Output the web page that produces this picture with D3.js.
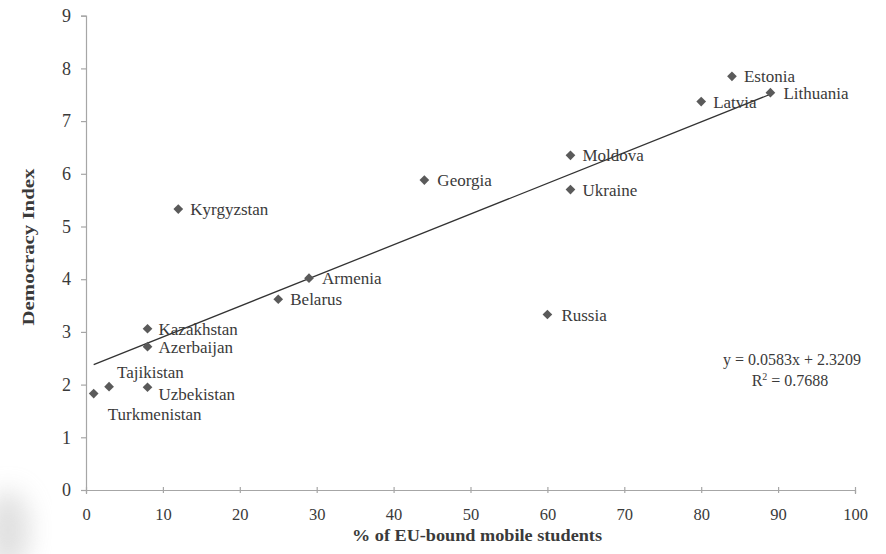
<!DOCTYPE html>
<html>
<head>
<meta charset="utf-8">
<script src="https://cdn.jsdelivr.net/npm/d3@7"></script>
<style>
  html, body { margin: 0; padding: 0; background: #fff; }
  svg { display: block; }
  text { font-family: "Liberation Serif", "DejaVu Serif", serif; fill: #3a3a3a; }
</style>
</head>
<body>
<svg id="chart" width="886" height="554"></svg>
<script>
// Countries, share of EU-bound mobile students (%) and Democracy Index
const countries = ["Turkmenistan", "Tajikistan", "Uzbekistan", "Azerbaijan", "Kazakhstan",
  "Kyrgyzstan", "Belarus", "Armenia", "Georgia", "Russia", "Moldova", "Ukraine",
  "Latvia", "Estonia", "Lithuania"];
const euShare = [1, 3, 8, 8, 8, 12, 25, 29, 44, 60, 63, 63, 80, 84, 89];
const democracy = [1.83, 1.96, 1.95, 2.72, 3.06, 5.33, 3.62, 4.02, 5.88, 3.33, 6.35, 5.70, 7.37, 7.85, 7.54];

// Linear trend line coefficients
const slope = 0.0583;
const intercept = 2.3209;
const rSquared = 0.7688;

const xTicks = [0, 10, 20, 30, 40, 50, 60, 70, 80, 90, 100];
const yTicks = [0, 1, 2, 3, 4, 5, 6, 7, 8, 9];

// Label placement relative to each marker [dx, dy]
const labelOffset = {
  Turkmenistan: [14, 26], Tajikistan: [8, -9], Uzbekistan: [11, 13],
  Azerbaijan: [11, 6], Kazakhstan: [11, 6], Kyrgyzstan: [12, 6],
  Belarus: [12, 6], Armenia: [13, 6], Georgia: [13, 6], Russia: [14, 6],
  Moldova: [12, 6], Ukraine: [12, 6], Latvia: [12, 6], Estonia: [12, 6],
  Lithuania: [13, 6]
};

const svg = d3.select("#chart");

// Faint grey smudge in the lower-left corner
const defs = svg.append("defs");
defs.append("filter").attr("id", "soft").attr("x", "-50%").attr("y", "-50%")
  .attr("width", "200%").attr("height", "200%")
  .append("feGaussianBlur").attr("stdDeviation", 12);
svg.append("ellipse").attr("cx", 8).attr("cy", 530).attr("rx", 22).attr("ry", 40)
  .attr("fill", "#c8c8c8").attr("opacity", 0.55).attr("filter", "url(#soft)");

const x = d3.scaleLinear().domain([0, 100]).range([86, 855]);
const y = d3.scaleLinear().domain([0, 9]).range([490, 15.7]);
const axisColor = "#a6a6a6";

// Axes
const xAxis = svg.append("g").attr("transform", `translate(0,${y(0)})`)
  .call(d3.axisBottom(x).tickValues(xTicks).tickSize(4).tickPadding(14).tickFormat(d3.format("d")));
xAxis.selectAll(".tick line").attr("y1", -3).attr("y2", 3);
xAxis.selectAll("text").attr("font-size", 16.5).attr("font-family", "Lato, 'Open Sans', sans-serif");

const yAxis = svg.append("g").attr("transform", `translate(${x(0)},0)`)
  .call(d3.axisLeft(y).tickValues(yTicks).tickSize(5).tickPadding(10).tickFormat(d3.format("d")));
yAxis.selectAll("text").attr("font-size", 18).attr("font-family", "'Liberation Serif', serif");

[xAxis, yAxis].forEach(g => {
  g.selectAll("path, line").attr("stroke", axisColor).attr("stroke-width", 1.2);
  g.selectAll("text").attr("fill", "#3a3a3a");
});

// Axis titles
svg.append("text")
  .attr("x", 477).attr("y", 541)
  .attr("text-anchor", "middle").attr("font-size", 17).attr("font-weight", "bold")
  .attr("textLength", 250).attr("lengthAdjust", "spacingAndGlyphs")
  .text("% of EU-bound mobile students");
svg.append("text")
  .attr("transform", `translate(34,247) rotate(-90)`)
  .attr("text-anchor", "middle").attr("font-size", 17).attr("font-weight", "bold")
  .attr("textLength", 157).attr("lengthAdjust", "spacingAndGlyphs")
  .text("Democracy Index");

// Trend line across the data range
const xMin = d3.min(euShare), xMax = d3.max(euShare);
svg.append("line")
  .attr("x1", x(xMin)).attr("y1", y(slope * xMin + intercept))
  .attr("x2", x(xMax)).attr("y2", y(slope * xMax + intercept))
  .attr("stroke", "#333").attr("stroke-width", 1.3);

// Points
const pts = countries.map((c, i) => ({ name: c, x: euShare[i], y: democracy[i] }));
const diamond = d3.symbol().type(d3.symbolDiamond2).size(60);
svg.append("g").selectAll("path").data(pts).join("path")
  .attr("d", diamond)
  .attr("transform", d => `translate(${x(d.x)},${y(d.y)})`)
  .attr("fill", "#5a5a5a");

// Country labels
svg.append("g").selectAll("text").data(pts).join("text")
  .attr("x", d => x(d.x) + labelOffset[d.name][0])
  .attr("y", d => y(d.y) + labelOffset[d.name][1])
  .attr("font-size", 17)
  .text(d => d.name);

// Regression equation
const eq = svg.append("text").attr("text-anchor", "middle").attr("font-size", 16);
eq.append("tspan").attr("x", 792).attr("y", 365)
  .text(`y = ${slope}x + ${intercept}`);
eq.append("tspan").attr("x", 790).attr("y", 386).text("R");
eq.append("tspan").attr("dy", -6).attr("font-size", 10).text("2");
eq.append("tspan").attr("dy", 6).text(` = ${rSquared}`);
</script>
</body>
</html>
